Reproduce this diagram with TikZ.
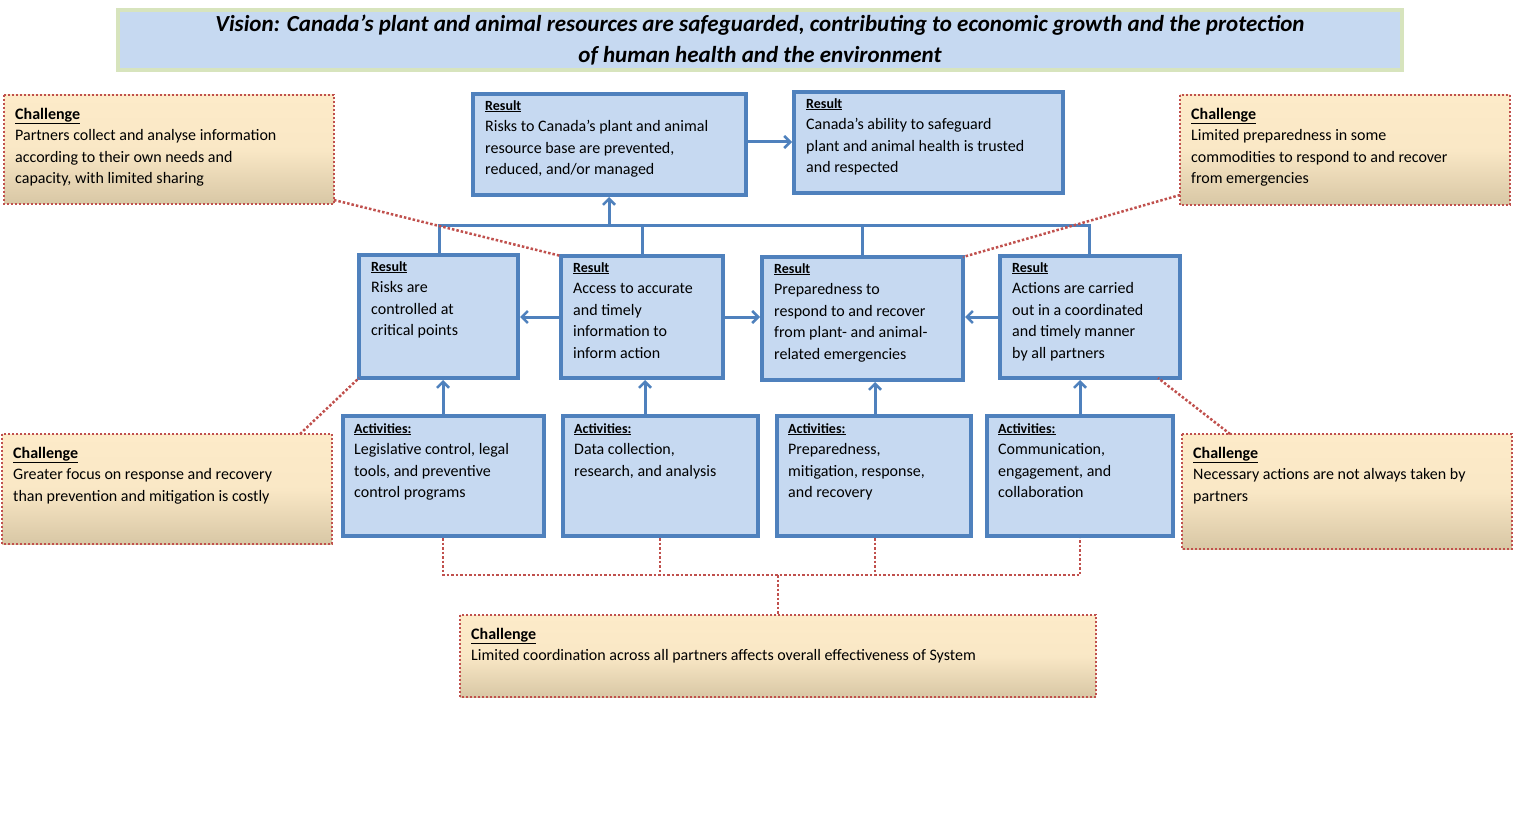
\documentclass[tikz,border=0pt]{standalone}
\usepackage{fontspec}
\setmainfont{Carlito}
\usetikzlibrary{arrows.meta}
\definecolor{bb}{HTML}{4F81BD}
\definecolor{bf}{HTML}{C6D9F1}
\definecolor{rd}{HTML}{C0504D}
\definecolor{gt}{HTML}{FDEBC9}
\definecolor{gb}{HTML}{D8C7A5}
\definecolor{vg}{HTML}{D7E4BD}
\begin{document}
\begin{tikzpicture}[x=1pt,y=-1pt,
  rbox/.style={draw=bb,fill=bf,line width=3.5pt},
  cbox/.style={draw=rd,line width=2pt,dotted,top color=gt,bottom color=gb,middle color=gt!90!gb},
  txt/.style={anchor=north west,align=left,inner sep=0pt,font=\fontsize{16}{21.5}\selectfont},
  conn/.style={draw=bb,line width=3pt},
  arr/.style={conn,-{Straight Barb[length=6pt,width=12pt,line width=2.5pt]}},
  dl/.style={draw=rd,line width=2.5pt,dotted}]
\useasboundingbox (0,0) rectangle (1515,821);
\newcommand{\hd}[1]{\textbf{\underline{#1}}}
% vision
\draw[fill=bf,draw=vg,line width=4pt] (118,10) rectangle (1402,70);
\node (vis) [align=center,font=\fontsize{23}{31}\selectfont\bfseries\itshape] at (760,40) {Vision: Canada’s plant and animal resources are safeguarded, contributing to economic growth and the protection\\of human health and the environment};
% boxes
\newcommand{\bx}[6]{\draw[#1] (#3,#4) rectangle (#5,#6); \coordinate (#2nw) at (#3,#4); \coordinate (#2se) at (#5,#6);}
\bx{rbox}{t1}{473}{94}{746}{195}
\bx{rbox}{t2}{794}{92}{1063}{193}
\bx{rbox}{r1}{359}{255}{518}{378}
\bx{rbox}{r2}{561}{256}{723}{378}
\bx{rbox}{r3}{762}{257}{963}{380}
\bx{rbox}{r4}{1000}{256}{1180}{378}
\bx{rbox}{a1}{343}{416}{544}{536}
\bx{rbox}{a2}{563}{416}{758}{536}
\bx{rbox}{a3}{777}{416}{971}{536}
\bx{rbox}{a4}{987}{416}{1173}{536}
\bx{cbox}{c1}{4}{95}{334}{204}
\bx{cbox}{c2}{1180}{95}{1510}{205}
\bx{cbox}{c3}{2}{434}{332}{544}
\bx{cbox}{c4}{1182}{434}{1512}{549}
\bx{cbox}{c5}{460}{615}{1096}{697}
% texts
\newcommand{\rt}[2]{\node[txt] (#1t) at ([shift={(12,6)}]#1nw) {{\fontsize{14}{18}\selectfont\hd{Result}}\\#2};}
\newcommand{\at}[2]{\node[txt] (#1t) at ([shift={(11,7)}]#1nw) {{\fontsize{14}{18}\selectfont\hd{Activities:}}\\#2};}
\newcommand{\ct}[2]{\node[txt] (#1t) at ([shift={(11,13)}]#1nw) {\hd{Challenge}\\#2};}
\rt{t1}{Risks to Canada’s plant and animal\\resource base are prevented,\\reduced, and/or managed}
\rt{t2}{Canada’s ability to safeguard\\plant and animal health is trusted\\and respected}
\rt{r1}{Risks are\\controlled at\\critical points}
\rt{r2}{Access to accurate\\and timely\\information to\\inform action}
\rt{r3}{Preparedness to\\respond to and recover\\from plant- and animal-\\related emergencies}
\rt{r4}{Actions are carried\\out in a coordinated\\and timely manner\\by all partners}
\at{a1}{Legislative control, legal\\tools, and preventive\\control programs}
\at{a2}{Data collection,\\research, and analysis}
\at{a3}{Preparedness,\\mitigation, response,\\and recovery}
\at{a4}{Communication,\\engagement, and\\collaboration}
\ct{c1}{Partners collect and analyse information\\according to their own needs and\\capacity, with limited sharing}
\ct{c2}{Limited preparedness in some\\commodities to respond to and recover\\from emergencies}
\ct{c3}{Greater focus on response and recovery\\than prevention and mitigation is costly}
\ct{c4}{Necessary actions are not always taken by\\partners}
\ct{c5}{Limited coordination across all partners affects overall effectiveness of System}
% connectors
\draw[conn] (439,255) |- (1089,226) -- (1089,256);
\draw[conn] (642,256) -- (642,226);
\draw[conn] (862,257) -- (862,226);
\draw[arr] (609,226) -- (609,197);
\draw[arr] (746,142) -- (792,142);
\draw[arr] (561,317) -- (520,317);
\draw[arr] (723,317) -- (760,317);
\draw[arr] (1000,317) -- (965,317);
\draw[arr] (443,416) -- (443,380);
\draw[arr] (645,416) -- (645,380);
\draw[arr] (875,416) -- (875,382);
\draw[arr] (1080,416) -- (1080,380);
% dotted red
\draw[dl] (334,200) -- (561,256);
\draw[dl] (1180,195) -- (963,257);
\draw[dl] (300,434) -- (359,378);
\draw[dl] (1230,434) -- (1158,378);
\draw[dl] (443,538) -- (443,575) -- (1080,575) -- (1080,538);
\draw[dl] (660,538) -- (660,575);
\draw[dl] (875,538) -- (875,575);
\draw[dl] (778,575) -- (778,615);
\end{tikzpicture}
\end{document}
